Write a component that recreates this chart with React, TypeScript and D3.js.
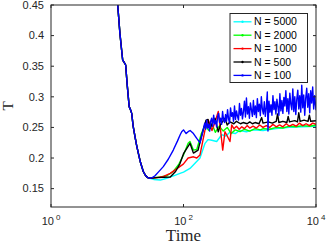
import React, { useEffect, useRef } from 'react';
import * as d3 from 'd3';

// time is stored as log10(t), temperature as T
const head = [
  [0.9, 0.56], [0.97, 0.49], [1.007, 0.45], [1.04, 0.404], [1.07, 0.372], [1.082, 0.36],
  [1.1, 0.357], [1.127, 0.352], [1.15, 0.32], [1.18, 0.284], [1.2, 0.279], [1.218, 0.273],
  [1.24, 0.252], [1.268, 0.235], [1.29, 0.222], [1.318, 0.208], [1.35, 0.193], [1.393, 0.178],
  [1.43, 0.171], [1.46, 0.168], [1.494, 0.167]
];

const n5000 = [
  [1.55, 0.165], [1.65, 0.164], [1.746, 0.167], [1.85, 0.171], [1.947, 0.175], [2.0, 0.177],
  [2.098, 0.183], [2.17, 0.191], [2.249, 0.2], [2.325, 0.224], [2.37, 0.23], [2.426, 0.229],
  [2.501, 0.227], [2.577, 0.238], [2.64, 0.236], [2.7, 0.242], [2.78, 0.24], [2.85, 0.245],
  [2.95, 0.243], [3.05, 0.246], [3.2, 0.245], [3.4, 0.248], [3.6, 0.25], [3.8, 0.251], [4.0, 0.252]
];

const n2000 = [
  [1.55, 0.168], [1.65, 0.169], [1.75, 0.171], [1.846, 0.178], [1.93, 0.19], [2.0, 0.205],
  [2.07, 0.224], [2.098, 0.227], [2.15, 0.213], [2.2, 0.214], [2.27, 0.24], [2.325, 0.254],
  [2.38, 0.245], [2.43, 0.256], [2.48, 0.242], [2.54, 0.252], [2.6, 0.244], [2.66, 0.25],
  [2.72, 0.24], [2.78, 0.246], [2.853, 0.243], [2.92, 0.247], [3.0, 0.244], [3.08, 0.248],
  [3.16, 0.246], [3.205, 0.248], [3.3, 0.247], [3.4, 0.25], [3.5, 0.249], [3.6, 0.252],
  [3.7, 0.251], [3.8, 0.253], [3.9, 0.252], [4.0, 0.254]
];

const n1000 = [
  [1.6, 0.168], [1.7, 0.17], [1.8, 0.175], [1.88, 0.181], [1.997, 0.19], [2.07, 0.2],
  [2.15, 0.202], [2.2, 0.2], [2.249, 0.205], [2.325, 0.246], [2.374, 0.262], [2.43, 0.245],
  [2.48, 0.26], [2.525, 0.276], [2.56, 0.245], [2.592, 0.213], [2.626, 0.243], [2.66, 0.236],
  [2.702, 0.227], [2.727, 0.254], [2.76, 0.248], [2.8, 0.252], [2.84, 0.247], [2.88, 0.251],
  [2.92, 0.248], [2.96, 0.253], [3.0, 0.249], [3.05, 0.252], [3.1, 0.249], [3.15, 0.254],
  [3.2, 0.25], [3.25, 0.253], [3.3, 0.25], [3.35, 0.255], [3.4, 0.251], [3.45, 0.254],
  [3.5, 0.251], [3.55, 0.256], [3.6, 0.252], [3.65, 0.255], [3.7, 0.252], [3.75, 0.257],
  [3.8, 0.253], [3.85, 0.256], [3.9, 0.253], [3.95, 0.257], [4.0, 0.255]
];

const n500 = [
  [1.6, 0.168], [1.8, 0.169], [1.88, 0.178], [1.947, 0.191], [2.0, 0.207], [2.098, 0.224],
  [2.15, 0.208], [2.22, 0.213], [2.27, 0.235], [2.34, 0.262], [2.37, 0.263], [2.4, 0.248],
  [2.44, 0.258], [2.475, 0.265], [2.525, 0.243], [2.56, 0.255], [2.626, 0.265], [2.66, 0.254],
  [2.7, 0.259], [2.76, 0.256], [2.8, 0.26], [2.86, 0.256], [2.9, 0.258], [2.96, 0.256],
  [3.0, 0.259], [3.04, 0.256], [3.08, 0.258], [3.14, 0.256], [3.18, 0.266], [3.2, 0.257],
  [3.28, 0.259], [3.34, 0.257], [3.4, 0.26], [3.42, 0.272], [3.44, 0.258], [3.5, 0.26],
  [3.56, 0.258], [3.58, 0.268], [3.6, 0.259], [3.68, 0.261], [3.72, 0.259], [3.74, 0.274],
  [3.76, 0.26], [3.82, 0.262], [3.88, 0.26], [3.9, 0.27], [3.92, 0.26], [4.0, 0.261]
];

const n100 = [
  [1.53, 0.168], [1.57, 0.171], [1.62, 0.177], [1.695, 0.186], [1.77, 0.198], [1.846, 0.213],
  [1.91, 0.228], [1.95, 0.238], [1.973, 0.243], [2.0, 0.246], [2.04, 0.24], [2.07, 0.243],
  [2.1, 0.245], [2.15, 0.24], [2.2, 0.232], [2.25, 0.225], [2.28, 0.238], [2.32, 0.257],
  [2.335, 0.247], [2.35, 0.262], [2.365, 0.249], [2.38, 0.255], [2.395, 0.244], [2.41, 0.26],
  [2.425, 0.265], [2.44, 0.252], [2.455, 0.27], [2.47, 0.256], [2.485, 0.261], [2.5, 0.251],
  [2.515, 0.268], [2.53, 0.273], [2.545, 0.258], [2.56, 0.265], [2.575, 0.255], [2.59, 0.276],
  [2.605, 0.262], [2.62, 0.258], [2.635, 0.271], [2.65, 0.26], [2.665, 0.279], [2.68, 0.264],
  [2.695, 0.257], [2.71, 0.282], [2.725, 0.268], [2.74, 0.274], [2.755, 0.26], [2.77, 0.285],
  [2.785, 0.263], [2.8, 0.277], [2.815, 0.268], [2.83, 0.262], [2.845, 0.289], [2.86, 0.27],
  [2.875, 0.281], [2.89, 0.264], [2.905, 0.276], [2.92, 0.293], [2.935, 0.267], [2.95, 0.298],
  [2.965, 0.272], [2.98, 0.284], [2.995, 0.265], [3.01, 0.29], [3.025, 0.279], [3.04, 0.268],
  [3.055, 0.294], [3.07, 0.271], [3.085, 0.285], [3.1, 0.266], [3.115, 0.297], [3.13, 0.276],
  [3.145, 0.288], [3.16, 0.269], [3.175, 0.3], [3.19, 0.28], [3.205, 0.272], [3.22, 0.292],
  [3.235, 0.268], [3.25, 0.283], [3.265, 0.308], [3.275, 0.244], [3.29, 0.293], [3.305, 0.275],
  [3.32, 0.287], [3.335, 0.27], [3.35, 0.302], [3.365, 0.279], [3.38, 0.292], [3.395, 0.272],
  [3.41, 0.296], [3.425, 0.284], [3.44, 0.27], [3.455, 0.305], [3.47, 0.277], [3.485, 0.294],
  [3.5, 0.273], [3.515, 0.299], [3.53, 0.285], [3.545, 0.31], [3.56, 0.276], [3.575, 0.297],
  [3.59, 0.272], [3.605, 0.306], [3.62, 0.288], [3.635, 0.279], [3.65, 0.313], [3.665, 0.276],
  [3.68, 0.3], [3.695, 0.271], [3.71, 0.296], [3.725, 0.311], [3.74, 0.28], [3.755, 0.302],
  [3.77, 0.275], [3.785, 0.319], [3.8, 0.282], [3.815, 0.303], [3.83, 0.27], [3.845, 0.298],
  [3.86, 0.314], [3.875, 0.283], [3.89, 0.305], [3.905, 0.274], [3.92, 0.31], [3.935, 0.29],
  [3.95, 0.316], [3.965, 0.28], [3.98, 0.302], [4.0, 0.278]
];

const labels = ['N = 5000', 'N = 2000', 'N = 1000', 'N = 500', 'N = 100'];
const colors = ['#00ffff', '#00ff00', '#ff0000', '#000000', '#0000ff'];
const tails = [n5000, n2000, n1000, n500, n100];

const yTicks = [0.15, 0.2, 0.25, 0.3, 0.35, 0.4, 0.45];
const xTicks = [1, 100, 10000];

const App = () => {
  const container = useRef(null);

  const width = 327;
  const height = 244;
  const margins = { l: 51, t: 5, r: 11, b: 37 };
  const plotwidth = width - margins.l - margins.r;
  const plotheight = height - margins.t - margins.b;
  const axisColor = '#262626';

  useEffect(() => {
    const svg = d3
      .select(container.current)
      .selectAll('svg')
      .data([0])
      .join('svg')
      .attr('width', width)
      .attr('height', height)
      .style('position', 'absolute')
      .style('left', 0)
      .style('top', 0)
      .style('background', '#fff');
    svg.selectAll('*').remove();

    const xScale = d3.scaleLog().domain([1, 1e4]).range([0, plotwidth]);
    const yScale = d3.scaleLinear().domain([0.12, 0.45]).range([plotheight, 0]);

    svg
      .append('defs')
      .append('clipPath')
      .attr('id', 'plotclip')
      .append('rect')
      .attr('width', plotwidth)
      .attr('height', plotheight);

    const plotg = svg.append('g').attr('transform', `translate(${margins.l},${margins.t})`);

    const line = d3
      .line()
      .x(d => xScale(Math.pow(10, d[0])))
      .y(d => yScale(d[1]));

    const curves = plotg.append('g').attr('clip-path', 'url(#plotclip)');
    tails.forEach((tail, i) => {
      curves
        .append('path')
        .attr('d', line(head.concat(tail)))
        .attr('fill', 'none')
        .attr('stroke', colors[i])
        .attr('stroke-width', 1.4)
        .attr('stroke-linejoin', 'round');
    });

    // box
    plotg
      .append('rect')
      .attr('width', plotwidth)
      .attr('height', plotheight)
      .attr('fill', 'none')
      .attr('stroke', axisColor)
      .attr('stroke-width', 1);

    const tl = 3;
    yTicks.forEach(v => {
      const y = yScale(v);
      plotg.append('line').attr('x1', 0).attr('x2', tl).attr('y1', y).attr('y2', y).attr('stroke', axisColor);
      plotg
        .append('line')
        .attr('x1', plotwidth - tl)
        .attr('x2', plotwidth)
        .attr('y1', y)
        .attr('y2', y)
        .attr('stroke', axisColor);
      plotg
        .append('text')
        .attr('x', -7)
        .attr('y', y)
        .attr('dy', '0.35em')
        .attr('text-anchor', 'end')
        .attr('font-family', 'Liberation Sans, Arial, sans-serif')
        .attr('font-size', 11)
        .attr('fill', axisColor)
        .text(d3.format('')(v));
    });

    xTicks.forEach(v => {
      const x = xScale(v);
      plotg
        .append('line')
        .attr('x1', x)
        .attr('x2', x)
        .attr('y1', plotheight)
        .attr('y2', plotheight - tl)
        .attr('stroke', axisColor);
      plotg.append('line').attr('x1', x).attr('x2', x).attr('y1', 0).attr('y2', tl).attr('stroke', axisColor);
      const t = plotg
        .append('text')
        .attr('x', x)
        .attr('y', plotheight + 18)
        .attr('text-anchor', 'middle')
        .attr('font-family', 'Liberation Sans, Arial, sans-serif')
        .attr('font-size', 11)
        .attr('fill', axisColor);
      t.append('tspan').text('10');
      t.append('tspan')
        .attr('dx', 2)
        .attr('dy', -5)
        .attr('font-size', 8)
        .text(String(Math.round(Math.log10(v))));
    });

    // axis labels
    plotg
      .append('text')
      .attr('x', plotwidth / 2)
      .attr('y', plotheight + 34)
      .attr('text-anchor', 'middle')
      .attr('font-family', 'Liberation Serif, Times New Roman, serif')
      .attr('font-size', 17)
      .attr('fill', axisColor)
      .text('Time');

    svg
      .append('text')
      .attr('transform', `translate(13,${margins.t + plotheight / 2}) rotate(-90)`)
      .attr('text-anchor', 'middle')
      .attr('font-family', 'Liberation Serif, Times New Roman, serif')
      .attr('font-size', 15)
      .attr('fill', axisColor)
      .text('T');

    // legend
    const lg = svg.append('g').attr('transform', 'translate(230,13.5)');
    lg.append('rect')
      .attr('width', 77.5)
      .attr('height', 69)
      .attr('fill', '#fff')
      .attr('stroke', axisColor)
      .attr('stroke-width', 1);
    labels.forEach((lab, i) => {
      const y = 8.3 + i * 13.4;
      lg.append('line')
        .attr('x1', 3.5)
        .attr('x2', 21.5)
        .attr('y1', y)
        .attr('y2', y)
        .attr('stroke', colors[i])
        .attr('stroke-width', 1.3);
      lg.append('circle').attr('cx', 12.5).attr('cy', y).attr('r', 1.2).attr('fill', colors[i]);
      lg.append('text')
        .attr('x', 24)
        .attr('y', y)
        .attr('dy', '0.35em')
        .attr('font-family', 'Liberation Sans, Arial, sans-serif')
        .attr('font-size', 10.5)
        .attr('fill', '#000')
        .text(lab);
    });
  }, []);

  return <div className="chart-container" ref={container}></div>;
};

export default App;
